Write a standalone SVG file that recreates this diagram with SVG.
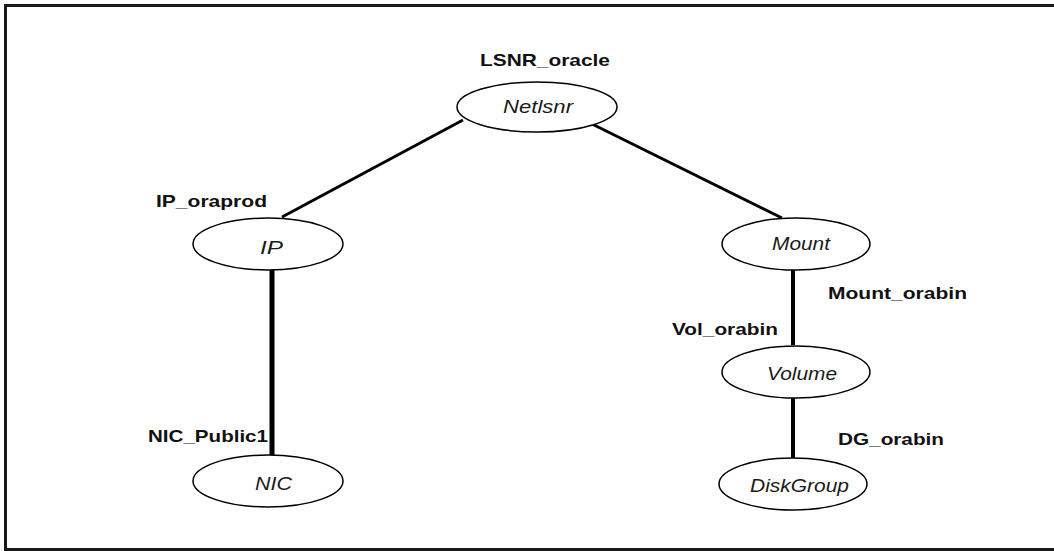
<svg xmlns="http://www.w3.org/2000/svg" width="1054" height="551" viewBox="0 0 1054 551">
<style>
.node ellipse{fill:#fff;stroke:#000;stroke-width:1.5}
.nt{font-family:"Liberation Sans",Arial,sans-serif;font-style:italic;font-size:18px;fill:#1a1a1a}
.lb{font-family:"Liberation Sans",Arial,sans-serif;font-weight:bold;font-size:17px;fill:#111}
.c{stroke:#000;fill:none}
</style>
<rect x="5.5" y="5.5" width="1060" height="544" fill="#fff" stroke="#1a1a1a" stroke-width="3"/>
<g id="connectors">
<line class="c" x1="463" y1="120" x2="282" y2="217" stroke-width="3"/>
<line class="c" x1="588" y1="122" x2="782" y2="218" stroke-width="3"/>
<line class="c" x1="272" y1="269" x2="272" y2="455" stroke-width="5"/>
<line class="c" x1="793" y1="269" x2="793" y2="345" stroke-width="4"/>
<line class="c" x1="793" y1="398" x2="793" y2="458" stroke-width="4"/>
<line class="c" x1="469" y1="116" x2="469" y2="121" stroke-width="1"/>
<line class="c" x1="276" y1="220" x2="276" y2="224" stroke-width="1"/>
<line class="c" x1="790" y1="391.5" x2="796" y2="391.5" stroke-width="1"/>
<line class="c" x1="790" y1="461.5" x2="796" y2="461.5" stroke-width="1"/>
</g>
<g id="netlsnr" class="node">
<ellipse cx="537" cy="107" rx="80" ry="25"/>
<text class="nt" x="503" y="113" textLength="70" lengthAdjust="spacingAndGlyphs">Netlsnr</text>
<text class="lb" x="480" y="66" textLength="130" lengthAdjust="spacingAndGlyphs">LSNR_oracle</text>
</g>
<g id="ip" class="node">
<ellipse cx="268" cy="244" rx="75" ry="26"/>
<text class="nt" x="260" y="254" textLength="23" lengthAdjust="spacingAndGlyphs">IP</text>
<text class="lb" x="156" y="207" textLength="111" lengthAdjust="spacingAndGlyphs">IP_oraprod</text>
</g>
<g id="mount" class="node">
<ellipse cx="796" cy="244" rx="74" ry="26"/>
<text class="nt" x="772" y="250" textLength="58" lengthAdjust="spacingAndGlyphs">Mount</text>
<text class="lb" x="828" y="299" textLength="139" lengthAdjust="spacingAndGlyphs">Mount_orabin</text>
</g>
<g id="volume" class="node">
<ellipse cx="796" cy="372" rx="74" ry="26"/>
<text class="nt" x="767" y="380" textLength="70" lengthAdjust="spacingAndGlyphs">Volume</text>
<text class="lb" x="672" y="335" textLength="106" lengthAdjust="spacingAndGlyphs">Vol_orabin</text>
</g>
<g id="nic" class="node">
<ellipse cx="268" cy="481" rx="75" ry="26"/>
<text class="nt" x="255" y="490" textLength="37" lengthAdjust="spacingAndGlyphs">NIC</text>
<text class="lb" x="148" y="442" textLength="120" lengthAdjust="spacingAndGlyphs">NIC_Public1</text>
</g>
<g id="diskgroup" class="node">
<ellipse cx="793" cy="484" rx="74" ry="26"/>
<text class="nt" x="750" y="492" textLength="99" lengthAdjust="spacingAndGlyphs">DiskGroup</text>
<text class="lb" x="838" y="445" textLength="106" lengthAdjust="spacingAndGlyphs">DG_orabin</text>
</g>
</svg>
